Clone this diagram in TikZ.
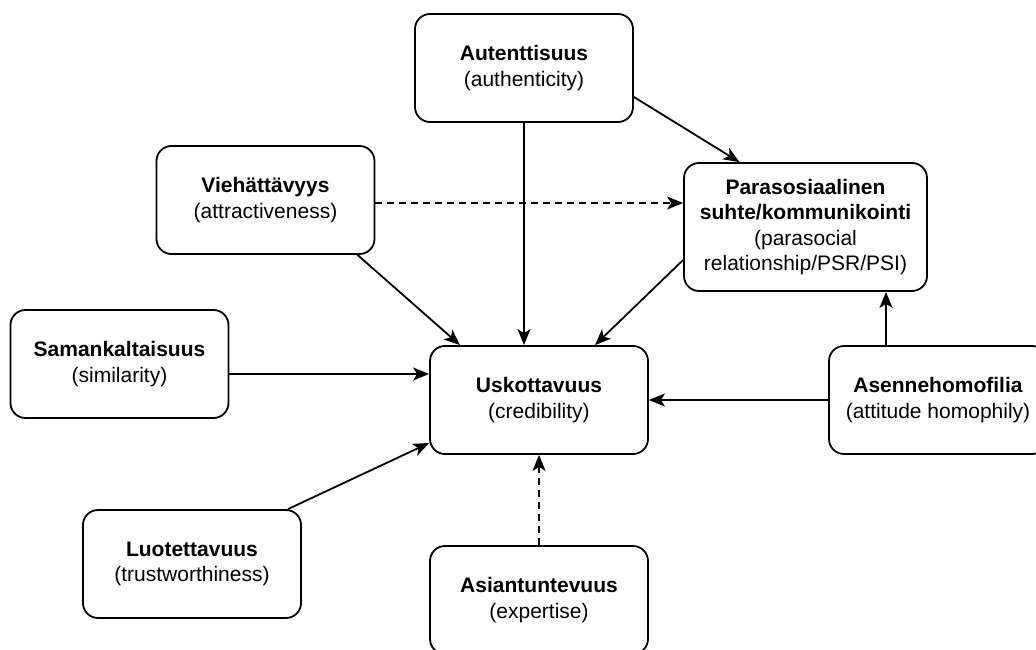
\documentclass[tikz,border=0pt]{standalone}
\usepackage{fontspec}
\setmainfont{Liberation Sans}
\usetikzlibrary{arrows.meta,calc}

\begin{document}
\begin{tikzpicture}[x=1pt,y=-1pt]

	% ============================================================
	% COLORS
	% ============================================================
	\definecolor{ink}{HTML}{000000}
	\definecolor{paper}{HTML}{FFFFFF}

	% ============================================================
	% STYLES
	% ============================================================
	\tikzset{
		box/.style={
			rounded corners=15pt,
			minimum width=218pt,
			minimum height=108pt,
			align=center,
			font=\fontsize{21}{25.5}\selectfont,
			text=ink,
			fill=paper,
			draw=ink,
			line width=1.8pt
		},
	wideBox/.style={box, minimum width=243pt, minimum height=128pt},
	arr/.style={-{Stealth[length=16pt,width=13pt,inset=4pt]},line width=1.8pt,draw=ink},
	dashArr/.style={arr, dash pattern=on 7pt off 5pt}
	}

	% ============================================================
	% CANVAS (1036 x 650)
	% ============================================================
	\clip (0,0) rectangle (1036,650);

	% TOP ROW
	\node[box]     (aut)  at (524, 68)  {\textbf{Autenttisuus}\\(authenticity)};
	\node[box]     (vie)  at (265.5, 200) {\textbf{Viehättävyys}\\(attractiveness)};
	\node[wideBox] (para) at (805.5, 227) {\textbf{Parasosiaalinen}\\\textbf{suhte/kommunikointi}\\(parasocial\\relationship/PSR/PSI)};

	% MIDDLE ROW
	\node[box]     (sam)  at (119.5, 364) {\textbf{Samankaltaisuus}\\(similarity)};
	\node[box]     (usk)  at (539, 400) {\textbf{Uskottavuus}\\(credibility)};
	\node[box]     (ase)  at (938, 400) {\textbf{Asennehomofilia}\\(attitude homophily)};

	% BOTTOM ROW
	\node[box]     (luo)  at (192, 564) {\textbf{Luotettavuus}\\(trustworthiness)};
	\node[box]     (asi)  at (539, 600) {\textbf{Asiantuntevuus}\\(expertise)};

	% ============================================================
	% ARROWS - INTO PARASOCIAL
	% ============================================================
	\draw[arr] ([yshift=-29pt]aut.east) -- ([xshift=-66pt]para.north);
	\draw[dashArr] ([yshift=-3pt]vie.east) -- ([yshift=24pt]para.west);
	\draw[arr] ([xshift=-52pt]ase.north) -- ([xshift=-52pt]ase.north |- para.south);

	% ============================================================
	% ARROWS - INTO CREDIBILITY
	% ============================================================
	\draw[arr] (aut.south) -- (aut.south |- usk.north);
	\draw[arr] ([xshift=92pt]vie.south) -- ([xshift=-79pt]usk.north);
	\draw[arr] ([yshift=-33pt]para.west) -- ([xshift=56pt]usk.north);
	\draw[arr] ([yshift=-10pt]sam.east) -- ([yshift=-10pt]sam.east -| usk.west);
	\draw[arr] ([xshift=96pt]luo.north) -- ([yshift=-43pt]usk.west);
	\draw[arr] (ase.west) -- (usk.east);
	\draw[dashArr] (asi.north) -- (usk.south);

\end{tikzpicture}
\end{document}
